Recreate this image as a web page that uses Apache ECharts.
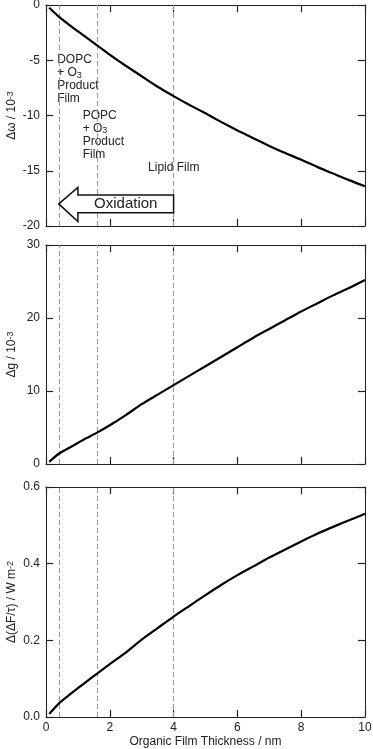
<!DOCTYPE html>
<html>
<head>
<meta charset="utf-8">
<script src="https://cdn.jsdelivr.net/npm/echarts@6/dist/echarts.min.js"></script>
<style>
html,body{margin:0;padding:0;background:#fff;}
#c{width:373px;height:749px;}
</style>
</head>
<body>
<div id="c"></div>
<script>
// Organic film thickness (nm)
var thickness = [0.1, 0.4, 0.8, 1.2, 1.6, 2.0, 2.5, 3.0, 3.5, 4.0, 4.5, 5.0, 5.5, 6.0, 6.5, 7.0, 7.5, 8.0, 8.5, 9.0, 9.5, 10.0];
// Δω / 10^-3
var dOmega = [-0.25, -1.05, -1.95, -2.8, -3.65, -4.5, -5.5, -6.45, -7.4, -8.25, -9.05, -9.8, -10.6, -11.35, -12.05, -12.75, -13.4, -14.0, -14.65, -15.25, -15.85, -16.4];
// Δg / 10^-3
var dG = [0.3, 1.4, 2.4, 3.4, 4.3, 5.3, 6.7, 8.2, 9.5, 10.8, 12.1, 13.4, 14.7, 16.0, 17.3, 18.5, 19.7, 20.9, 22.0, 23.1, 24.1, 25.2];
// Δ(ΔF/τ) / W m^-2
var dForcing = [0.008, 0.035, 0.062, 0.088, 0.113, 0.138, 0.168, 0.202, 0.232, 0.262, 0.290, 0.318, 0.345, 0.370, 0.393, 0.416, 0.437, 0.458, 0.478, 0.496, 0.513, 0.530];
// Film boundaries (nm)
var boundaries = [0.4, 1.6, 4.0];
var xTicks = {min: 0, max: 10, interval: 2};
var yTicks = [
  {min: -20, max: 0, interval: 5},
  {min: 0, max: 30, interval: 10},
  {min: 0, max: 0.6, interval: 0.2}
];
var yNames = ['Δω / 10{sup|-3}', 'Δg / 10{sup|-3}', 'Δ(ΔF/τ) / W m{sup|-2}'];
var xName = 'Organic Film Thickness / nm';

var FONT = 'Liberation Sans, Arial, sans-serif';
var AX = '#222';
var grids = [
  {left: 46, right: 8, top: 5, height: 221, outerBoundsMode: 'none', containLabel: false},
  {left: 46, right: 8, top: 245, height: 219, outerBoundsMode: 'none', containLabel: false},
  {left: 46, right: 8, top: 487, height: 230, outerBoundsMode: 'none', containLabel: false}
];
var seriesData = [dOmega, dG, dForcing];

function pairs(xs, ys) { return xs.map(function (x, i) { return [x, ys[i]]; }); }

var xAxes = [], yAxes = [], series = [];
grids.forEach(function (g, i) {
  var tick = {show: true, inside: true, length: 7, lineStyle: {color: AX, width: 1.2}};
  var line = {show: true, onZero: false, lineStyle: {color: AX, width: 1}};
  xAxes.push({
    type: 'value', gridIndex: i, position: 'bottom', min: xTicks.min, max: xTicks.max, interval: xTicks.interval,
    axisLine: line, axisTick: tick, splitLine: {show: false},
    axisLabel: {show: i === 2, color: AX, fontSize: 12, fontFamily: FONT, margin: 5},
    name: i === 2 ? xName : '', nameLocation: 'middle', nameGap: 19, nameMoveOverlap: false,
    nameTextStyle: {color: AX, fontSize: 12, fontFamily: FONT}
  });
  xAxes.push({
    type: 'value', gridIndex: i, position: 'top', min: xTicks.min, max: xTicks.max, interval: xTicks.interval,
    axisLine: line, axisTick: tick, splitLine: {show: false}, axisLabel: {show: false}
  });
  var yt = yTicks[i];
  yAxes.push({
    type: 'value', gridIndex: i, position: 'left', min: yt.min, max: yt.max, interval: yt.interval,
    axisLine: line, axisTick: tick, splitLine: {show: false},
    axisLabel: {color: AX, fontSize: 12, fontFamily: FONT, margin: 6,
      formatter: function (v) { return i === 2 ? v.toFixed(1) : String(v); }},
    name: yNames[i], nameLocation: 'middle', nameGap: 28, nameRotate: 90, nameMoveOverlap: false,
    nameTextStyle: {color: AX, fontSize: 12, fontFamily: FONT,
      rich: {sup: {fontSize: 9, fontFamily: FONT, color: AX, lineHeight: 4, verticalAlign: 'top'}}}
  });
  yAxes.push({
    type: 'value', gridIndex: i, position: 'right', min: yt.min, max: yt.max, interval: yt.interval,
    axisLine: line, axisTick: tick, splitLine: {show: false}, axisLabel: {show: false}
  });
  series.push({
    type: 'line', xAxisIndex: i * 2, yAxisIndex: i * 2, data: pairs(thickness, seriesData[i]),
    showSymbol: false, smooth: 0.2, lineStyle: {color: '#000', width: 2.2}, silent: true, z: 5,
    markLine: {
      silent: true, symbol: 'none', label: {show: false},
      lineStyle: {color: '#999', type: [5, 3], width: 1},
      data: boundaries.map(function (b) { return {xAxis: b}; })
    }
  });
});

var chart = echarts.init(document.getElementById('c'), null, {renderer: 'canvas'});
chart.setOption({
  animation: false,
  backgroundColor: '#fff',
  grid: grids,
  xAxis: xAxes,
  yAxis: yAxes,
  series: series
});

// Annotations positioned via axis scales
function px(pt) { return chart.convertToPixel({gridIndex: 0}, pt); }
var sub = {fontSize: 9, fontFamily: FONT, fill: AX, lineHeight: 6, verticalAlign: 'bottom'};
var p1 = px([0.35, -4.4]);
var p2 = px([1.15, -9.4]);
var p3 = px([3.2, -14.2]);
var tip = px([0.4, -18]);
var headBase = px([1.0, -16.5]);
var headBot = px([1.0, -19.6]);
var bodyTop = px([4.0, -17.2]);
var bodyBot = px([4.0, -18.8]);
chart.setOption({
  graphic: [
    {type: 'text', x: p1[0], y: p1[1], style: {text: 'DOPC\n+ O{sub|3}\nProduct\nFilm', font: '12px ' + FONT, fill: AX, lineHeight: 13, rich: {sub: sub}}},
    {type: 'text', x: p2[0], y: p2[1], style: {text: 'POPC\n+ O{sub|3}\nProduct\nFilm', font: '12px ' + FONT, fill: AX, lineHeight: 13, rich: {sub: sub}}},
    {type: 'text', x: p3[0], y: p3[1], style: {text: 'Lipid Film', font: '12px ' + FONT, fill: AX}},
    {type: 'polygon', z: 10, shape: {points: [
      [tip[0], tip[1]], [headBase[0], headBase[1]], [headBase[0], bodyTop[1]], [bodyTop[0], bodyTop[1]],
      [bodyBot[0], bodyBot[1]], [headBase[0], bodyBot[1]], [headBot[0], headBot[1]]
    ]}, style: {fill: '#fff', stroke: '#111', lineWidth: 1.5}},
    {type: 'text', z: 11, x: (headBase[0] + bodyTop[0]) / 2, y: tip[1], style: {text: 'Oxidation', font: '15px ' + FONT, fill: AX, align: 'center', verticalAlign: 'middle'}}
  ]
});
</script>
</body>
</html>
